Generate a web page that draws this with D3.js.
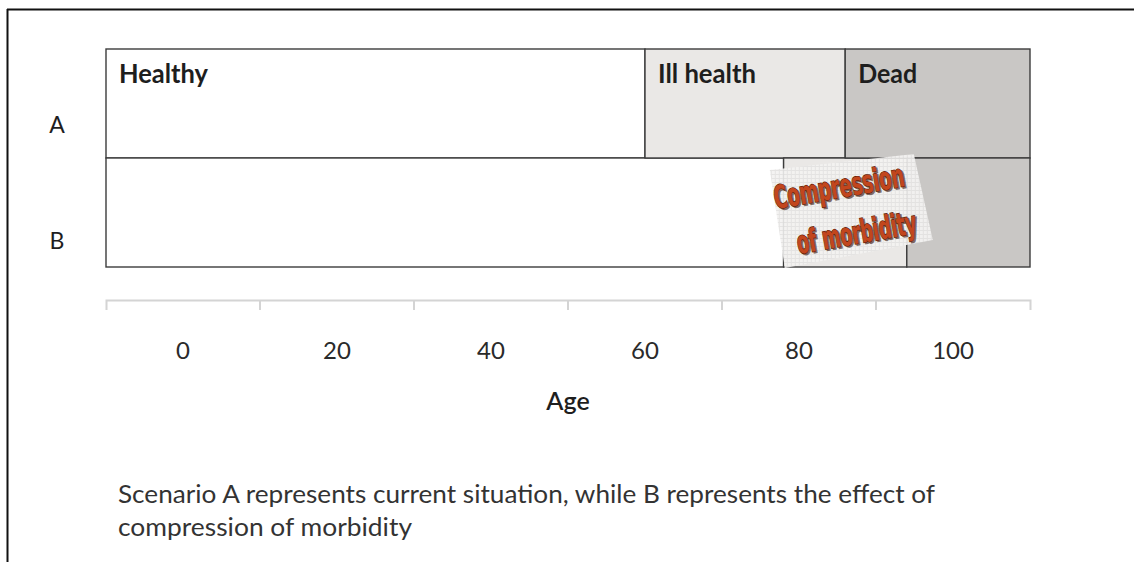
<!DOCTYPE html>
<html><head><meta charset="utf-8">
<script src="https://cdn.jsdelivr.net/npm/d3@7"></script>
<style>html,body{margin:0;padding:0;background:#fff;} svg{display:block;}</style>
</head><body><svg id="chart" width="1134" height="562"></svg>
<script>
// ---- data ----
const scenarios = ["A", "B"];
const states = ["Healthy", "Ill health", "Dead"];
const healthyYears = [70, 88];
const illHealthYears = [26, 16];
const deadYears = [24, 16];
const ageTickLabels = ["0", "20", "40", "60", "80", "100"];
const axisTitle = "Age";
const annotationLines = ["Compression", "of morbidity"];
const captionLines = ["Scenario A represents current situation, while B represents the effect of", "compression of morbidity"];
const stateColors = ["#ffffff", "#eae8e6", "#c9c7c5"];

// ---- layout ----
const W = 1134, H = 562;
const left = 106, right = 1030;
const svg = d3.select("#chart");
const FONT = "Lato, 'Open Sans', 'DejaVu Sans', sans-serif";

const x = d3.scaleLinear().domain([0, 120]).range([left, right]);
const y = d3.scaleBand().domain(scenarios).range([49, 267]).paddingInner(0);
const xAge = d3.scaleBand().domain(ageTickLabels).range([left, right]);
const color = d3.scaleOrdinal().domain(states).range(stateColors);

// page frame
svg.append("line").attr("x1", 7).attr("x2", W).attr("y1", 9.5).attr("y2", 9.5)
  .attr("stroke", "#111").attr("stroke-width", 2);
svg.append("line").attr("x1", 7.5).attr("x2", 7.5).attr("y1", 9).attr("y2", H)
  .attr("stroke", "#111").attr("stroke-width", 2);

// defs: sticker pattern
const defs = svg.append("defs");
const pat = defs.append("pattern").attr("id", "grid").attr("width", 4).attr("height", 4)
  .attr("patternUnits", "userSpaceOnUse");
pat.append("rect").attr("width", 4).attr("height", 4).attr("fill", "#f3f2f1");
pat.append("rect").attr("width", 1).attr("height", 4).attr("fill", "#e4e3e2");
pat.append("rect").attr("width", 4).attr("height", 1).attr("fill", "#e4e3e2");

// ---- stacked bars ----
const rows = scenarios.map((s, i) => ({
  scenario: s, "Healthy": healthyYears[i], "Ill health": illHealthYears[i], "Dead": deadYears[i]
}));
const stacked = d3.stack().keys(states)(rows);

const layers = svg.append("g").selectAll("g").data(stacked).join("g")
  .attr("fill", d => color(d.key));
layers.selectAll("rect").data(d => d.map(v => ({ key: d.key, v }))).join("rect")
  .attr("x", d => x(d.v[0]))
  .attr("y", d => y(d.v.data.scenario))
  .attr("width", d => x(d.v[1]) - x(d.v[0]))
  .attr("height", y.bandwidth())
  .attr("stroke", "#3c3c3c").attr("stroke-width", 1.4);

// state labels in scenario A
const labelWidths = { "Healthy": 89, "Ill health": 98, "Dead": 59 };
svg.append("g").selectAll("text").data(stacked).join("text")
  .attr("x", d => x(d[0][0]) + 13)
  .attr("y", y("A") + 34)
  .attr("font-family", FONT).attr("font-weight", "bold").attr("font-size", 27)
  .attr("fill", "#1e1e1e")
  .attr("textLength", d => labelWidths[d.key]).attr("lengthAdjust", "spacingAndGlyphs")
  .text(d => d.key);

// scenario labels
svg.append("g").selectAll("text").data(scenarios).join("text")
  .attr("x", 57)
  .attr("y", (d, i) => y(d) + y.bandwidth() / 2 + (i === 0 ? 29 : 36))
  .attr("text-anchor", "middle")
  .attr("font-family", FONT).attr("font-size", 23).attr("fill", "#1e1e1e")
  .text(d => d);

// ---- annotation sticker ----
const ax = x(healthyYears[1] + illHealthYears[1]);   // end of ill-health in B
const ay = y("B");
const sticker = svg.append("g").attr("transform", `translate(${ax},${ay})`);
sticker.append("polygon")
  .attr("points", [[-137, 12], [7, -4], [26, 82], [-122, 110]].map(p => p.join(",")).join(" "))
  .attr("fill", "url(#grid)").attr("opacity", 0.95);
const SFONT = "'DejaVu Sans Condensed', 'Liberation Sans Narrow', sans-serif";
annotationLines.forEach((t, i) => {
  const g = sticker.append("g")
    .attr("transform", `translate(${i === 0 ? -131 : -108},${i === 0 ? 51 : 96}) rotate(-10)`);
  g.append("text").attr("x", 1.5).attr("y", 1.5)
    .attr("font-family", SFONT).attr("font-weight", "bold").attr("font-size", 32)
    .attr("textLength", i === 0 ? 132 : 121).attr("lengthAdjust", "spacingAndGlyphs")
    .attr("fill", "#3a1206").attr("stroke", "#3a1206").attr("stroke-width", 1.5)
    .attr("opacity", 0.6).text(t);
  g.append("text")
    .attr("font-family", SFONT).attr("font-weight", "bold").attr("font-size", 32)
    .attr("textLength", i === 0 ? 132 : 121).attr("lengthAdjust", "spacingAndGlyphs")
    .attr("fill", "#c2461d").attr("stroke", "#5a1a08").attr("stroke-width", 1.3)
    .attr("paint-order", "stroke")
    .text(t);
});

// ---- axis ----
const axisY = 300;
const axisG = svg.append("g").attr("transform", `translate(0,${axisY})`)
  .call(d3.axisBottom(xAge).tickSizeInner(0).tickSizeOuter(10));
axisG.select(".domain").attr("stroke", "#d4d4d4").attr("stroke-width", 2);
axisG.selectAll(".tick line").remove();
axisG.selectAll(".tick text")
  .attr("y", 59).attr("dy", null)
  .attr("font-family", FONT).attr("font-size", 24).attr("fill", "#2a2a2a");
axisG.append("g").selectAll("line").data(ageTickLabels.slice(1)).join("line")
  .attr("x1", d => xAge(d)).attr("x2", d => xAge(d))
  .attr("y1", 0).attr("y2", 10)
  .attr("stroke", "#d4d4d4").attr("stroke-width", 2);

svg.append("text")
  .attr("x", (left + right) / 2).attr("y", 410)
  .attr("text-anchor", "middle")
  .attr("font-family", FONT).attr("font-size", 25).attr("font-weight", 600).attr("fill", "#1e1e1e")
  .text(axisTitle);

// ---- caption ----
const capWidths = [817, 294];
svg.append("g").selectAll("text").data(captionLines).join("text")
  .attr("x", 118).attr("y", (d, i) => 503 + i * 33)
  .attr("font-family", FONT).attr("font-size", 25).attr("fill", "#333")
  .attr("textLength", (d, i) => capWidths[i]).attr("lengthAdjust", "spacingAndGlyphs")
  .text(d => d);
</script>
</body></html>
